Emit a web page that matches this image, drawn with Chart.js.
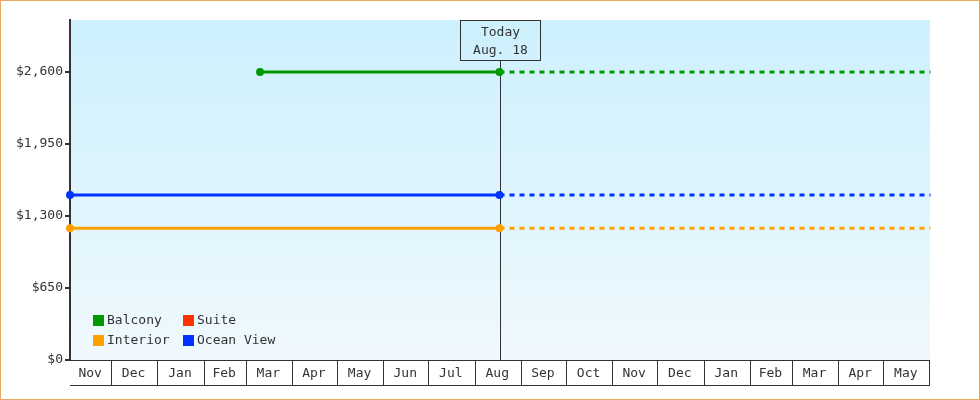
<!DOCTYPE html>
<html lang="en">
<head>
<meta charset="utf-8" />
<title>Cabin prices</title>
<script src="https://cdn.jsdelivr.net/npm/chart.js"></script>
<style>
  body { margin: 0; background: #fff; }
  canvas { display: block; }
</style>
</head>
<body>
<canvas id="priceChart" width="980" height="400"></canvas>
<script>
  // axis range, tick labels
  const axisStart  = '2016-11-04';
  const axisEnd    = '2018-06-01';
  const todayDate  = '2017-08-18';
  const todayLabel = ['Today', 'Aug. 18'];
  const monthLabels = ['Nov','Dec','Jan','Feb','Mar','Apr','May','Jun','Jul','Aug',
                       'Sep','Oct','Nov','Dec','Jan','Feb','Mar','Apr','May'];
  const yTicks = [0, 650, 1300, 1950, 2600];
  const yMax   = 3070;

  // series (price history up to today)
  const seriesNames    = ['Balcony', 'Suite', 'Interior', 'Ocean View'];
  const balconyDates   = ['2017-03-11', '2017-08-18'];
  const balconyPrices  = [2600, 2600];
  const suiteDates     = [];
  const suitePrices    = [];
  const interiorDates  = ['2016-11-04', '2017-08-18'];
  const interiorPrices = [1190, 1190];
  const oceanDates     = ['2016-11-04', '2017-08-18'];
  const oceanPrices    = [1490, 1490];

  // projection after today
  const projDates    = ['2017-08-18', '2018-06-02'];
  const balconyProj  = [2600, 2600];
  const interiorProj = [1190, 1190];
  const oceanProj    = [1490, 1490];

  const colors = { 'Balcony': '#009900', 'Suite': '#ff3300', 'Interior': '#ffa000', 'Ocean View': '#0033ff' };

  const t0  = Date.parse(axisStart);
  const day = d => (Date.parse(d) - t0) / 864e5;
  const s   = new Date(t0);
  const monthEnds = monthLabels.map((m, i) =>
    (Date.UTC(s.getUTCFullYear(), s.getUTCMonth() + i + 1, 1) - t0) / 864e5);
  const monthMids = monthEnds.map((e, i) => ((i ? monthEnds[i-1] : 0) + e) / 2);

  const pts = (dates, prices) => dates.map((d, i) => ({ x: day(d), y: prices[i] }));

  function solid(name, data) {
    return { label: name, data: data, borderColor: colors[name], backgroundColor: colors[name],
             borderWidth: 3, pointRadius: 4, pointBorderWidth: 0, pointHoverRadius: 4, clip: false };
  }
  function dashed(name, data) {
    return { label: name + ' (proj)', data: data, borderColor: colors[name], borderWidth: 3,
             borderDash: [5, 5], pointRadius: 0, pointHoverRadius: 0, clip: false };
  }

  const INK = '#333';

  const decor = {
    id: 'decor',
    beforeDraw(chart) {
      const c = chart.ctx, a = chart.chartArea;
      c.save();
      c.fillStyle = '#fff';
      c.fillRect(0, 0, chart.width, chart.height);
      const g = c.createLinearGradient(0, a.top, 0, a.bottom);
      g.addColorStop(0, '#ccf0fd');
      g.addColorStop(1, '#f0f9fe');
      c.fillStyle = g;
      c.fillRect(a.left, a.top, a.right - a.left + 1, a.bottom - a.top);
      c.strokeStyle = '#e9a95f';
      c.lineWidth = 1;
      c.strokeRect(0.5, 0.5, chart.width - 1, chart.height - 1);
      c.restore();
    },
    beforeDatasetsDraw(chart) {
      const c = chart.ctx, a = chart.chartArea, x = chart.scales.x;
      const tx = Math.round(x.getPixelForValue(day(todayDate))) + 0.5;
      c.save();
      c.strokeStyle = INK;
      c.lineWidth = 1;
      c.beginPath();
      c.moveTo(tx, a.top + 40);
      c.lineTo(tx, a.bottom);
      c.stroke();
      c.strokeRect(tx - 40, a.top + 0.5, 80, 40);
      c.fillStyle = INK;
      c.font = "13px 'DejaVu Sans Mono'";
      c.textAlign = 'center';
      c.textBaseline = 'middle';
      c.fillText(todayLabel[0], tx, a.top + 13);
      c.fillText(todayLabel[1], tx, a.top + 31);
      c.restore();
    },
    afterDraw(chart) {
      const c = chart.ctx, a = chart.chartArea, x = chart.scales.x;
      c.save();
      c.strokeStyle = INK;
      c.lineWidth = 1;
      c.beginPath();
      monthEnds.forEach(v => {
        const px = Math.ceil(x.getPixelForValue(v)) + 0.5;
        c.moveTo(px, a.bottom);
        c.lineTo(px, a.bottom + 25);
      });
      c.moveTo(a.left, a.bottom + 25.5);
      c.lineTo(a.right + 1, a.bottom + 25.5);
      c.stroke();
      // legend, two columns inside the plot
      c.font = "13px 'DejaVu Sans Mono'";
      c.textBaseline = 'middle';
      c.textAlign = 'left';
      seriesNames.forEach((n, i) => {
        const lx = a.left + 23 + (i % 2) * 90;
        const ly = a.bottom - 40 + Math.floor(i / 2) * 20;
        c.fillStyle = colors[n];
        c.fillRect(lx, ly - 5, 11, 11);
        c.fillStyle = INK;
        c.fillText(n, lx + 14, ly + 1);
      });
      c.restore();
    }
  };

  Chart.defaults.font.family = "'DejaVu Sans Mono', monospace";
  Chart.defaults.font.size = 13;
  Chart.defaults.color = INK;

  new Chart(document.getElementById('priceChart'), {
    type: 'line',
    data: {
      datasets: [
        solid('Balcony', pts(balconyDates, balconyPrices)),
        solid('Suite', pts(suiteDates, suitePrices)),
        solid('Interior', pts(interiorDates, interiorPrices)),
        solid('Ocean View', pts(oceanDates, oceanPrices)),
        dashed('Balcony', pts(projDates, balconyProj)),
        dashed('Interior', pts(projDates, interiorProj)),
        dashed('Ocean View', pts(projDates, oceanProj))
      ]
    },
    options: {
      responsive: false,
      devicePixelRatio: 1,
      animation: false,
      layout: { padding: { top: 20, right: 51, left: 0, bottom: 0 } },
      plugins: { legend: { display: false }, tooltip: { enabled: false } },
      scales: {
        x: {
          type: 'linear',
          min: 0,
          max: day(axisEnd),
          afterFit: sc => { sc.height = 40; },
          afterBuildTicks: sc => { sc.ticks = monthMids.map(v => ({ value: v })); },
          grid: { display: false, drawTicks: false },
          border: { display: true, color: INK, width: 1 },
          ticks: { autoSkip: false, maxRotation: 0, padding: 6,
                   callback: (v, i) => monthLabels[i] }
        },
        y: {
          min: 0,
          max: yMax,
          afterFit: sc => { sc.width = 70; },
          afterBuildTicks: sc => { sc.ticks = yTicks.map(v => ({ value: v })); },
          grid: { drawOnChartArea: false, tickLength: 5, color: INK, lineWidth: 2 },
          border: { display: true, color: INK, width: 2 },
          ticks: { padding: 2, callback: v => '$' + v.toLocaleString('en-US') }
        }
      }
    },
    plugins: [decor]
  });
</script>
</body>
</html>
